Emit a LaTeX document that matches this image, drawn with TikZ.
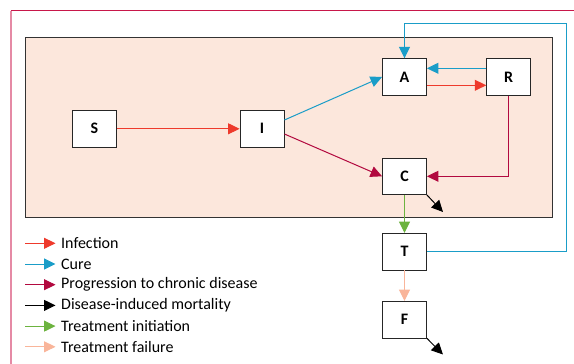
\documentclass[tikz,border=0pt]{standalone}
\usepackage{fontspec}
\setmainfont{Carlito}
\usetikzlibrary{arrows.meta}
\definecolor{cInf}{HTML}{EE3A2C}
\definecolor{cCure}{HTML}{1A9DC8}
\definecolor{cProg}{HTML}{B2093F}
\definecolor{cTreat}{HTML}{6CB33F}
\definecolor{cFail}{HTML}{F9B59A}
\definecolor{cBg}{HTML}{FCE7DC}
\definecolor{cFrameTop}{HTML}{C8174A}
\definecolor{cFrameLeft}{HTML}{E58AA5}
\tikzset{
  box/.style={draw=black!85, line width=0.9pt, fill=white, minimum width=44pt, minimum height=36.5pt, inner sep=0pt, font=\fontsize{16}{16}\selectfont\bfseries},
  flow/.style={line width=1pt, -{Triangle[length=11.5pt,width=11pt]}},
  legtext/.style={anchor=west, inner sep=0pt, font=\fontsize{16}{16}\selectfont}
}
\begin{document}
\begin{tikzpicture}[x=1pt,y=-1pt]
\useasboundingbox (0,0) rectangle (574,364);
% frame
\draw[cFrameTop, line width=1.2pt] (10.5,10.5) -- (574,10.5);
\draw[cFrameLeft, line width=1.2pt] (11,10.5) -- (11,364);
% compartment background
\draw[fill=cBg, draw=black!80, line width=1pt] (25.5,37.5) rectangle (552.5,217);
% nodes
\node[box] (S) at (94.5,128.8) {S};
\node[box] (I) at (262,128.8) {I};
\node[box] (A) at (404.5,77) {A};
\node[box] (R) at (508.7,77) {R};
\node[box] (C) at (404.5,176.3) {C};
\node[box] (T) at (404.5,251.7) {T};
\node[box] (F) at (404.5,319.7) {F};
% connectors
\draw[flow, cInf] (S.east) -- (I.west);
\draw[flow, cCure] ([yshift=8.8pt]I.east) -- (A.west);
\draw[flow, cProg] ([yshift=-5.2pt]I.east) -- (C.west);
\draw[flow, cCure] ([yshift=8.7pt]R.west) -- ([yshift=8.7pt]A.east);
\draw[flow, cInf] ([yshift=-8.3pt]A.east) -- ([yshift=-8.3pt]R.west);
\draw[flow, cProg] (R.south) |- (C.east);
\draw[flow, cTreat] (C.south) -- (T.north);
\draw[flow, cFail] (T.south) -- (F.north);
\coordinate (loopR) at (566.7,23.3);
\draw[flow, cCure] (T.east) -| (loopR) -| (A.north);
\coordinate (Cd) at (443,212);
\coordinate (Fd) at (443,354.5);
\draw[flow, black] (C.south east) -- (Cd);
\draw[flow, black] (F.south east) -- (Fd);
% legend
\foreach \y/\c/\t [count=\i] in {243.3/cInf/Infection, 264/cCure/Cure, 284.7/cProg/Progression to chronic disease, 305.4/black/Disease-induced mortality, 326.1/cTreat/Treatment initiation, 346.8/cFail/Treatment failure}{
  \coordinate (ls\i) at (25,\y);
  \coordinate (le\i) at (55.5,\y);
  \draw[flow, \c] (ls\i) -- (le\i);
  \node[legtext] (lt\i) at (61,\y) {\t};
}
\end{tikzpicture}
\end{document}
